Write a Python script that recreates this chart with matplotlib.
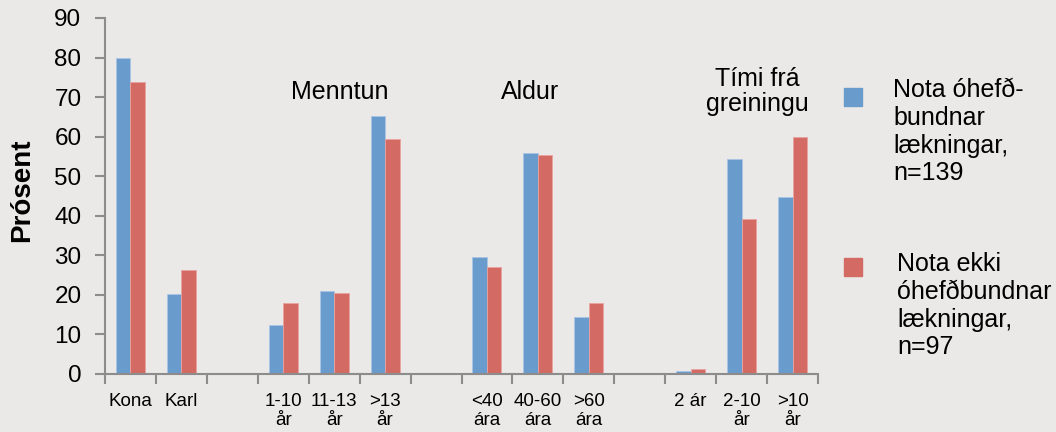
import numpy as np
import matplotlib
matplotlib.use("Agg")
import matplotlib.pyplot as plt
from matplotlib.patches import Rectangle

plt.rcParams['font.family'] = ['Liberation Sans', 'DejaVu Sans']

# categories (empty strings are gaps between groups)
categories = ['Kona', 'Karl', '',
              '1-10\når', '11-13\når', '>13\når', '',
              '<40\nára', '40-60\nára', '>60\nára', '',
              '2 ár', '2-10\når', '>10\når']
nota = [80, 20.2, 0, 12.4, 21.0, 65.2, 0, 29.7, 55.8, 14.5, 0, 0.8, 54.4, 44.7]
nota_ekki = [73.8, 26.3, 0, 17.9, 20.5, 59.4, 0, 27.1, 55.3, 17.9, 0, 1.3, 39.2, 59.8]
group_labels = ['Menntun', 'Aldur', 'Tími frá\ngreiningu']
group_pos = [4.1, 7.85, 12.3]
legend_labels = ['Nota óhefð-\nbundnar\nlækningar,\nn=139',
                 'Nota ekki\nóhefðbundnar\nlækningar,\nn=97']

bg = '#EBE9E7'
blue = '#6A9BCD'
red = '#D46A64'
axis_gray = '#8C8C8C'

fig = plt.figure(figsize=(10.56, 4.32), dpi=100, facecolor=bg)
ax = fig.add_axes([105 / 1056, 1 - 374 / 432, (818 - 105) / 1056, (374 - 18) / 432])
ax.set_facecolor(bg)

x = np.arange(len(categories))
w = 0.285
ax.bar(x - w / 2, nota, w, color=blue, edgecolor='#A9C4E4', linewidth=0.6)
ax.bar(x + w / 2, nota_ekki, w, color=red, edgecolor='#E8A29E', linewidth=0.6)

ax.set_xlim(-0.5, len(categories) - 0.5)
ax.set_ylim(0, 90)
ax.set_yticks(range(0, 91, 10))
ax.tick_params(axis='y', labelsize=17.5, length=7, width=1.5, color=axis_gray, pad=10)

# tick marks on slot boundaries, labels on slot centers
ax.set_xticks(np.arange(len(categories) + 1) - 0.5)
ax.set_xticklabels([])
ax.tick_params(axis='x', which='major', length=7, width=1.5, color=axis_gray)
ax.set_xticks(x, minor=True)
ax.set_xticklabels(categories, minor=True, fontsize=13.5, linespacing=1.15)
ax.tick_params(axis='x', which='minor', length=0, pad=14)

for s in ['top', 'right']:
    ax.spines[s].set_visible(False)
for s in ['left', 'bottom']:
    ax.spines[s].set_color(axis_gray)
    ax.spines[s].set_linewidth(1.5)

fig.text(22 / 1056, 1 - 190 / 432, 'Prósent', rotation=90, fontsize=20,
         fontweight='bold', ha='center', va='center')

for lab, pos in zip(group_labels, group_pos):
    ax.text(pos, 71.3, lab, ha='center', va='center', fontsize=18,
            linespacing=1.05)

# legend drawn by hand to follow the original layout
fig.patches.append(Rectangle((844 / 1056, 1 - 106 / 432), 18 / 1056, 18 / 432,
                             transform=fig.transFigure, color=blue))
fig.patches.append(Rectangle((844 / 1056, 1 - 276 / 432), 18 / 1056, 18 / 432,
                             transform=fig.transFigure, color=red))
fig.text(893 / 1056, 1 - 78 / 432, legend_labels[0], fontsize=18,
         va='top', ha='left', linespacing=1.2)
fig.text(897 / 1056, 1 - 252 / 432, legend_labels[1], fontsize=18,
         va='top', ha='left', linespacing=1.2)

fig.savefig('out.png', dpi=100, facecolor=bg)
